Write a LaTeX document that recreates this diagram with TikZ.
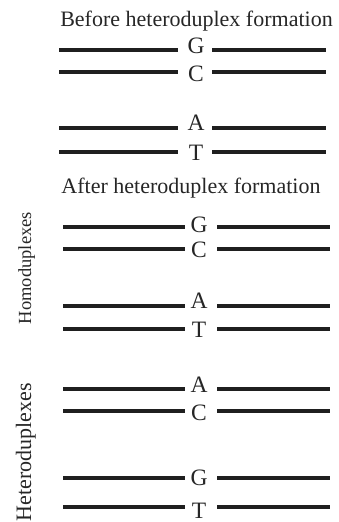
\documentclass[tikz,border=0pt]{standalone}
\usepackage{fontspec}
\setmainfont{Liberation Serif}

\begin{document}
\begin{tikzpicture}[x=1pt, y=-1pt]
        \tikzstyle{strand} = [line width=4pt, draw=black!88]
        \tikzstyle{nt} = [anchor=base, inner sep=0pt, text=black!85, font=\fontsize{22}{24}\selectfont]
        \tikzstyle{side} = [rotate=90, anchor=base, inner sep=0pt, text=black!85]
        \useasboundingbox (0,0) rectangle (339,522);
        \node[nt] (before) at (196.5,27) {Before heteroduplex formation};
        \node[nt] (after) at (191,193) {After heteroduplex formation};
        \node[side, font=\fontsize{18.5}{20}\selectfont] (homo) at (31,268) {Homoduplexes};
        \node[side, font=\fontsize{22}{24}\selectfont] (hetero) at (31,452) {Heteroduplexes};
        % before: G/C and A/T
        \foreach \y/\b/\nt in {50/53/G, 72/81/C, 128/130/A, 152/160/T} {
                \draw[strand] (59,\y) -- (178,\y);
                \draw[strand] (212,\y) -- (326,\y);
                \node[nt, font=\fontsize{23.5}{24}\selectfont] (pre\y) at (196,\b) {\nt};
        }
        % after: homoduplexes and heteroduplexes
        \foreach \y/\b/\nt in {227/232/G, 249/257/C, 306/308/A, 329/337/T,
                               389/392/A, 411/420/C, 478/485/G, 507/518/T} {
                \draw[strand] (63,\y) -- (185,\y);
                \draw[strand] (217,\y) -- (330,\y);
                \node[nt, font=\fontsize{23.5}{24}\selectfont] (post\y) at (199,\b) {\nt};
        }
\end{tikzpicture}
\end{document}
